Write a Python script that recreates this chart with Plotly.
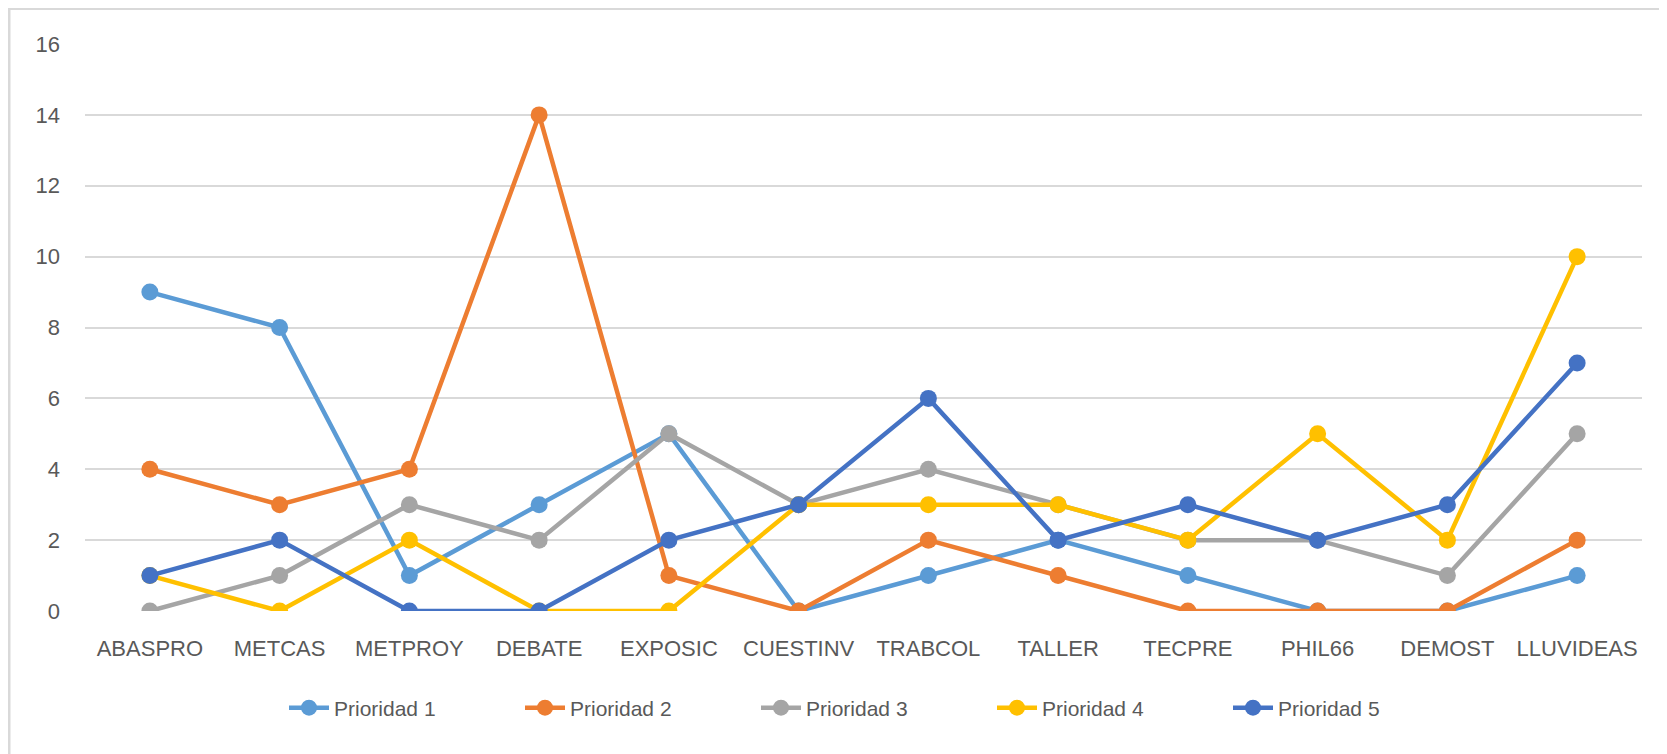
import plotly.graph_objects as go

categories = ["ABASPRO", "METCAS", "METPROY", "DEBATE", "EXPOSIC", "CUESTINV",
              "TRABCOL", "TALLER", "TECPRE", "PHIL66", "DEMOST", "LLUVIDEAS"]
prioridad_1 = [9, 8, 1, 3, 5, 0, 1, 2, 1, 0, 0, 1]
prioridad_2 = [4, 3, 4, 14, 1, 0, 2, 1, 0, 0, 0, 2]
prioridad_3 = [0, 1, 3, 2, 5, 3, 4, 3, 2, 2, 1, 5]
prioridad_4 = [1, 0, 2, 0, 0, 3, 3, 3, 2, 5, 2, 10]
prioridad_5 = [1, 2, 0, 0, 2, 3, 6, 2, 3, 2, 3, 7]
series_names = ["Prioridad 1", "Prioridad 2", "Prioridad 3", "Prioridad 4", "Prioridad 5"]
colors = ["#5B9BD5", "#ED7D31", "#A5A5A5", "#FFC000", "#4472C4"]

W, H = 1667, 754
L, R, T, B = 77, 33, 36, 151
pw, ph = W - L - R, H - T - B

fig = go.Figure()
for name, vals, c in zip(series_names,
                         [prioridad_1, prioridad_2, prioridad_3, prioridad_4, prioridad_5],
                         colors):
    fig.add_trace(go.Scatter(x=categories, y=vals, name=name, mode="lines+markers",
                             line=dict(color=c, width=4.5),
                             marker=dict(color=c, size=17)))

font = dict(family="Liberation Sans, Arial, sans-serif", size=22, color="#595959")

def px_x(p):
    return (p - L) / pw

def px_y(p):
    return (H - B - p) / ph

fig.update_layout(
    width=W, height=H,
    margin=dict(l=L, r=R, t=T, b=B),
    paper_bgcolor="white", plot_bgcolor="white",
    font=font,
    showlegend=True,
    legend=dict(orientation="h", x=px_x(866), xanchor="center", y=px_y(700), yanchor="middle",
                font=dict(family=font["family"], size=21, color="#595959"),
                entrywidth=181, entrywidthmode="pixels", itemwidth=40),
    xaxis=dict(type="category", range=[-0.5, len(categories) - 0.5], showgrid=False,
               showline=False, zeroline=False, ticks="", tickfont=font,
               ticklabelstandoff=22),
    yaxis=dict(range=[0, 16], dtick=2, tick0=0, showgrid=True, gridcolor="#D9D9D9",
               gridwidth=1.5, zeroline=False, showline=False, ticks="",
               tickfont=font, ticklabelstandoff=24),
    shapes=[dict(type="rect", xref="paper", yref="paper",
                 x0=px_x(1), x1=px_x(1720), y0=px_y(800), y1=px_y(0.5),
                 line=dict(color="#D9D9D9", width=3), layer="below")],
)

fig.write_html("out.html")
